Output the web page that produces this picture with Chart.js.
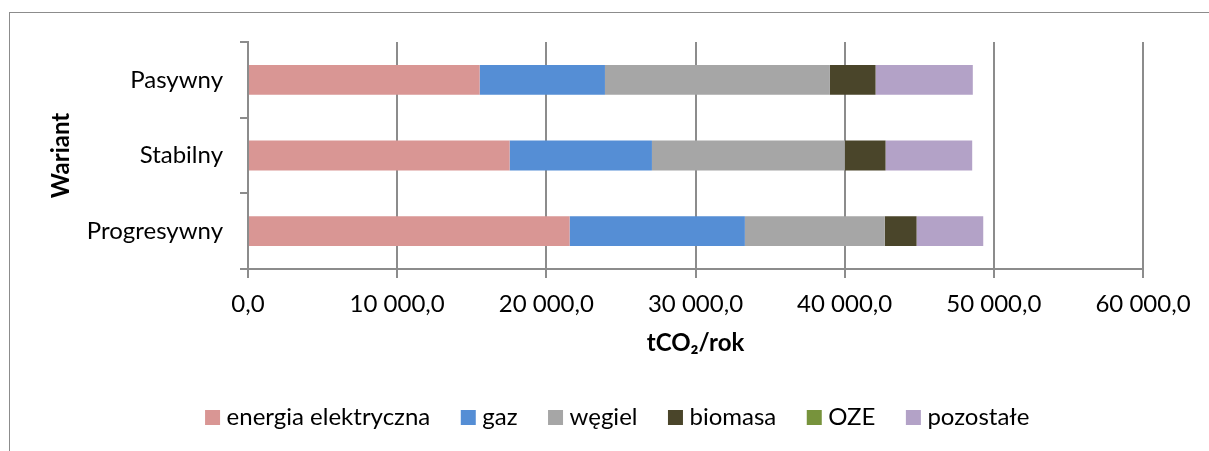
<!DOCTYPE html>
<html lang="pl">
<head>
<meta charset="utf-8">
<title>Emisja CO2 wg wariantu</title>
<script src="https://cdn.jsdelivr.net/npm/chart.js@4.4.1/dist/chart.umd.min.js"></script>
<style>
  html, body { margin: 0; padding: 0; background: #fff; }
  #wrap { width: 1209px; height: 451px; position: relative; }
</style>
</head>
<body>
<div id="wrap"><canvas id="emisjaChart"></canvas></div>
<script>
// warianty i emisje wg nosnika [tCO2/rok]
var warianty = ["Pasywny", "Stabilny", "Progresywny"];
var energia = [15530, 17540, 21560];
var gaz = [8400, 9540, 11750];
var wegiel = [15080, 12930, 9380];
var biomasa = [3060, 2730, 2130];
var oze = [0, 0, 0];
var pozostale = [6520, 5810, 4470];
var osX = [0, 10000, 20000, 30000, 40000, 50000, 60000];

var szary = "#8c8c8c";

// 10000 -> "10 000,0"
function liczba(v) {
  var s = Math.round(v).toString().replace(/\B(?=(\d{3})+(?!\d))/g, " ");
  return s + ",0";
}

// ramka wokol wykresu
var ramka = {
  id: "ramka",
  beforeDraw: function(chart) {
    var c = chart.ctx;
    c.save();
    c.strokeStyle = szary;
    c.lineWidth = 1;
    c.strokeRect(9.5, 12.5, 1400, 600);
    c.restore();
  }
};

Chart.defaults.font.family = "Lato";
Chart.defaults.font.size = 24;
Chart.defaults.color = "#000";

var ctx = document.getElementById("emisjaChart");
var wykres = new Chart(ctx, {
  type: "bar",
  data: {
    labels: warianty,
    datasets: [
      { label: "energia elektryczna", data: energia, backgroundColor: "#D99694" },
      { label: "gaz", data: gaz, backgroundColor: "#558ED5" },
      { label: "węgiel", data: wegiel, backgroundColor: "#A6A6A6" },
      { label: "biomasa", data: biomasa, backgroundColor: "#4A452A" },
      { label: "OZE", data: oze, backgroundColor: "#77933C" },
      { label: "pozostałe", data: pozostale, backgroundColor: "#B3A2C7" }
    ]
  },
  options: {
    indexAxis: "y",
    responsive: true,
    maintainAspectRatio: false,
    animation: false,
    layout: { padding: { left: 31, right: 0, top: 42, bottom: 11.5 } },
    datasets: { bar: { barPercentage: 1, categoryPercentage: 0.395, borderWidth: 0 } },
    scales: {
      x: {
        stacked: true,
        min: osX[0],
        max: osX[osX.length - 1],
        ticks: { stepSize: osX[1] - osX[0], padding: 11.6, callback: function(v) { return liczba(v); } },
        grid: { color: szary, lineWidth: 2, tickLength: 9 },
        border: { color: szary, width: 2 },
        title: { display: true, text: "tCO₂/rok", font: { weight: "bold" }, padding: { top: 0, bottom: 11.6 } },
        afterFit: function(s) { s.height = 100.5; s.paddingRight = 66; }
      },
      y: {
        stacked: true,
        ticks: { padding: 17 },
        grid: { drawOnChartArea: false, color: szary, lineWidth: 2, tickLength: 8 },
        border: { color: szary, width: 2 },
        title: { display: true, text: "Wariant", font: { weight: "bold" }, padding: { top: 15.6, bottom: 0 } },
        afterFit: function(s) { s.width = 217; }
      }
    },
    plugins: {
      legend: {
        position: "bottom",
        labels: { usePointStyle: true, pointStyle: "rect", boxWidth: 4, boxHeight: 15, padding: 36 }
      },
      tooltip: { enabled: false }
    }
  },
  plugins: [ramka]
});
</script>
</body>
</html>
